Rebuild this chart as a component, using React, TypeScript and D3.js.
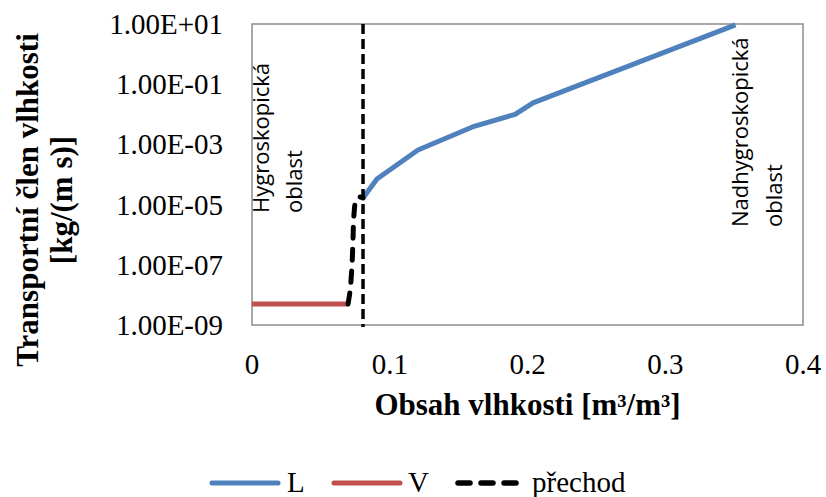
import React from "react";
import * as d3 from "d3";

// ---- data ----
const L_x = [0.0806, 0.0907, 0.1205, 0.16, 0.191, 0.204, 0.351];
const L_y = [1.66e-5, 7.1e-5, 6.5e-4, 3.8e-3, 1.0e-2, 2.4e-2, 9.3];

const V_x = [0, 0.0697];
const V_y = [5e-9, 5e-9];

const P_x = [0.0697, 0.0711, 0.0726, 0.0733, 0.074, 0.0755, 0.0777, 0.0806];
const P_y = [5e-9, 1.26e-8, 9.8e-8, 6.6e-7, 4.5e-6, 1.4e-5, 1.8e-5, 1.66e-5];

const boundaryX = 0.0806;

const xTicks = [0, 0.1, 0.2, 0.3, 0.4];
const xTickLabels = ["0", "0.1", "0.2", "0.3", "0.4"];
const yTicks = [1e1, 1e-1, 1e-3, 1e-5, 1e-7, 1e-9];
const yTickLabels = ["1.00E+01", "1.00E-01", "1.00E-03", "1.00E-05", "1.00E-07", "1.00E-09"];

const seriesNames = ["L", "V", "přechod"];
const xTitle = "Obsah vlhkosti [m³/m³]";
const yTitle1 = "Transportní člen vlhkosti";
const yTitle2 = "[kg/(m s)]";
const noteLeft = ["Hygroskopická", "oblast"];
const noteRight = ["Nadhygroskopická", "oblast"];

const BLUE = "#4f81bd";
const RED = "#c0504d";
const SERIF = "'Liberation Serif', 'Times New Roman', serif";
const SANS = "'Open Sans', 'Noto Sans', sans-serif";

export default function App() {
  const W = 826, H = 497;
  const left = 252, right = 803, top = 24, bottom = 325;
  const x = d3.scaleLinear().domain([0, 0.4]).range([left, right]);
  const y = d3.scaleLog().domain([1e-9, 1e1]).range([bottom, top]);

  const lineGen = d3
    .line<[number, number]>()
    .x((d) => x(d[0]))
    .y((d) => y(d[1]));
  const curveGen = d3
    .line<[number, number]>()
    .x((d) => x(d[0]))
    .y((d) => y(d[1]))
    .curve(d3.curveCatmullRom.alpha(0.5));

  const Ld = L_x.map((v, i) => [v, L_y[i]] as [number, number]);
  const Vd = V_x.map((v, i) => [v, V_y[i]] as [number, number]);
  const Pd = P_x.map((v, i) => [v, P_y[i]] as [number, number]);

  const fs = 29;

  return (
    <svg
      width={W}
      height={H}
      style={{ position: "absolute", left: 0, top: 0, background: "#fff" }}
    >
      <rect x={0} y={0} width={W} height={H} fill="#fff" />
      {/* plot border */}
      <rect
        x={left}
        y={top}
        width={right - left}
        height={bottom - top}
        fill="none"
        stroke="#8c8c8c"
        strokeWidth={1.5}
      />
      {/* y tick labels */}
      {yTicks.map((t, i) => (
        <text
          key={"yt" + i}
          x={223}
          y={y(t) + 10}
          textAnchor="end"
          fontFamily={SERIF}
          fontSize={fs}
          fill="#000"
        >
          {yTickLabels[i]}
        </text>
      ))}
      {/* x tick labels */}
      {xTicks.map((t, i) => (
        <text
          key={"xt" + i}
          x={x(t)}
          y={374}
          textAnchor="middle"
          fontFamily={SERIF}
          fontSize={fs}
          fill="#000"
        >
          {xTickLabels[i]}
        </text>
      ))}
      {/* axis titles */}
      <text
        x={(left + right) / 2}
        y={415}
        textAnchor="middle"
        fontFamily={SERIF}
        fontWeight="bold"
        fontSize={31}
        fill="#000"
      >
        {xTitle}
      </text>
      <g transform="translate(38,200) rotate(-90)">
        <text x={0} y={0} textAnchor="middle" fontFamily={SERIF} fontWeight="bold" fontSize={31} fill="#000">
          {yTitle1}
        </text>
      </g>
      <g transform="translate(72,200) rotate(-90)">
        <text x={0} y={0} textAnchor="middle" fontFamily={SERIF} fontWeight="bold" fontSize={31} fill="#000">
          {yTitle2}
        </text>
      </g>
      {/* series */}
      <path d={lineGen(Vd) || ""} fill="none" stroke={RED} strokeWidth={5} />
      <path d={lineGen(Ld) || ""} fill="none" stroke={BLUE} strokeWidth={5} strokeLinejoin="round" />
      <path
        d={curveGen(Pd) || ""}
        fill="none"
        stroke="#000"
        strokeWidth={5}
        strokeDasharray="11 11"
        strokeLinecap="round"
      />
      {/* boundary */}
      <line
        x1={x(boundaryX)}
        x2={x(boundaryX)}
        y1={top}
        y2={bottom + 2}
        stroke="#000"
        strokeWidth={3.5}
        strokeDasharray="10 5"
      />
      {/* annotations */}
      <g transform="translate(269,213) rotate(-90)">
        <text x={0} y={0} fontFamily={SANS} fontSize={22} fill="#000">
          {noteLeft[0]}
        </text>
        <text x={0} y={33} fontFamily={SANS} fontSize={22} fill="#000">
          {noteLeft[1]}
        </text>
      </g>
      <g transform="translate(748,227) rotate(-90)">
        <text x={0} y={0} fontFamily={SANS} fontSize={22} fill="#000">
          {noteRight[0]}
        </text>
        <text x={0} y={34} fontFamily={SANS} fontSize={22} fill="#000">
          {noteRight[1]}
        </text>
      </g>
      {/* legend */}
      <g>
        <line x1={212} x2={278} y1={483} y2={483} stroke={BLUE} strokeWidth={5} strokeLinecap="round" />
        <text x={287} y={492} fontFamily={SERIF} fontSize={fs} fill="#000">
          {seriesNames[0]}
        </text>
        <line x1={334} x2={400} y1={483} y2={483} stroke={RED} strokeWidth={5} strokeLinecap="round" />
        <text x={408} y={492} fontFamily={SERIF} fontSize={fs} fill="#000">
          {seriesNames[1]}
        </text>
        <line
          x1={458}
          x2={516}
          y1={483}
          y2={483}
          stroke="#000"
          strokeWidth={5.5}
          strokeDasharray="12 11"
          strokeLinecap="round"
        />
        <text x={532} y={492} fontFamily={SERIF} fontSize={fs} fill="#000">
          {seriesNames[2]}
        </text>
      </g>
    </svg>
  );
}
